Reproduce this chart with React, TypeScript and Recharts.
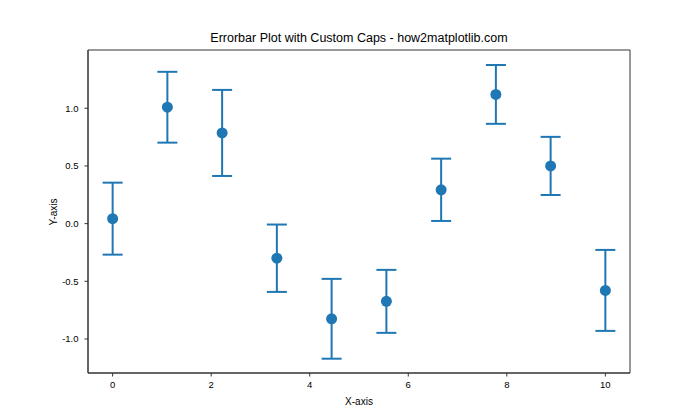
import { ScatterChart, Scatter, XAxis, YAxis, ErrorBar, ReferenceArea } from "recharts";

const xValues = [0, 1.111, 2.222, 3.333, 4.444, 5.556, 6.667, 7.778, 8.889, 10];
const yValues = [0.043, 1.009, 0.786, -0.3, -0.825, -0.674, 0.293, 1.12, 0.5, -0.579];
const yErrors = [0.312, 0.307, 0.373, 0.292, 0.346, 0.273, 0.27, 0.255, 0.252, 0.351];
const xTicks = [0, 2, 4, 6, 8, 10];
const yTicks = [-1, -0.5, 0, 0.5, 1];

const BLUE = "#1f77b4";
const FONT = '"Liberation Sans", Arial, sans-serif';
const X_DOMAIN: [number, number] = [-0.5, 10.5];
const Y_DOMAIN: [number, number] = [-1.295, 1.505];

const data = xValues.map((x, i) => ({ x, y: yValues[i], err: yErrors[i] }));

function Dot(props: any) {
  return <circle cx={props.cx} cy={props.cy} r={5.5} fill={BLUE} />;
}

export default function App() {
  return (
    <div style={{ position: "absolute", left: 0, top: 0, width: 700, height: 420, background: "#fff", fontFamily: FONT }}>
      <div style={{ position: "absolute", left: 88, width: 542, top: 31, textAlign: "center", fontSize: 12.5, color: "#000" }}>
        Errorbar Plot with Custom Caps - how2matplotlib.com
      </div>
      <ScatterChart width={700} height={420} margin={{ top: 50, right: 70, bottom: 17, left: 28 }}>
        <XAxis
          type="number"
          dataKey="x"
          domain={X_DOMAIN}
          ticks={xTicks}
          allowDataOverflow
          height={30}
          tickSize={3.5}
          tickMargin={5}
          axisLine={{ stroke: "#333" }}
          tickLine={{ stroke: "#333" }}
          tick={{ fill: "#000", fontSize: 9.5, fontFamily: FONT }}
        />
        <YAxis
          type="number"
          dataKey="y"
          domain={Y_DOMAIN}
          ticks={yTicks}
          allowDataOverflow
          width={60}
          tickSize={3.5}
          tickMargin={6}
          tickFormatter={(v: number) => v.toFixed(1)}
          axisLine={{ stroke: "#333" }}
          tickLine={{ stroke: "#333" }}
          tick={{ fill: "#000", fontSize: 9.5, fontFamily: FONT }}
        />
        <ReferenceArea x1={X_DOMAIN[0]} x2={X_DOMAIN[1]} y1={Y_DOMAIN[0]} y2={Y_DOMAIN[1]} fill="none" stroke="#333" strokeOpacity={1} />
        <Scatter data={data} shape={Dot} isAnimationActive={false}>
          <ErrorBar dataKey="err" direction="y" width={10} stroke={BLUE} strokeWidth={2} />
        </Scatter>
      </ScatterChart>
      <div style={{ position: "absolute", left: 88, width: 542, top: 396, textAlign: "center", fontSize: 10, color: "#000" }}>
        X-axis
      </div>
      <div
        style={{
          position: "absolute",
          left: 53,
          top: 212,
          transform: "translate(-50%, -50%) rotate(-90deg)",
          fontSize: 10,
          color: "#000",
          whiteSpace: "nowrap",
        }}
      >
        Y-axis
      </div>
    </div>
  );
}
